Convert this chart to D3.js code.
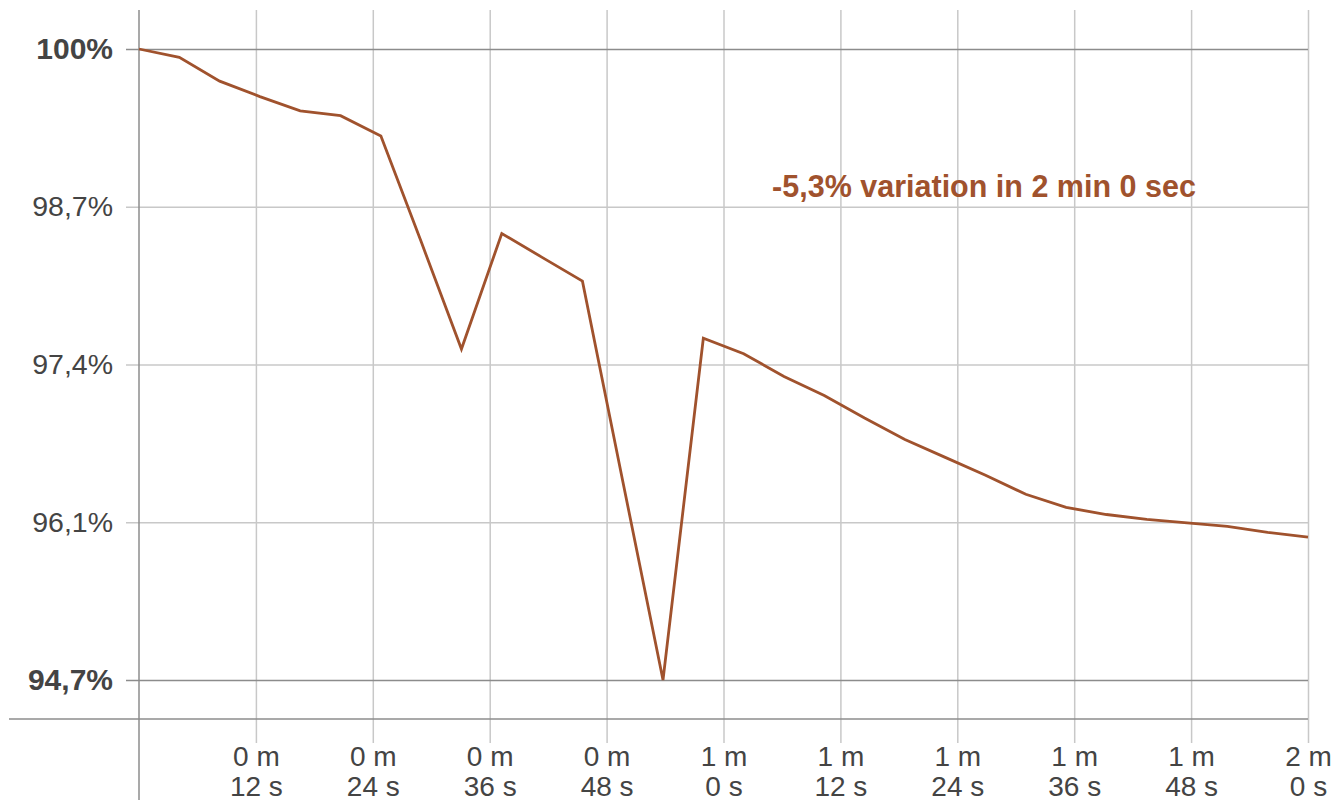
<!DOCTYPE html>
<html>
<head>
<meta charset="utf-8">
<script src="https://cdn.jsdelivr.net/npm/d3@7"></script>
<style>
  body { margin: 0; background: #fff; }
  svg { display: block; font-family: "Liberation Sans", Arial, sans-serif; }
</style>
</head>
<body>
<script>
// elapsed time of each sample, in seconds
const timeSec = [0, 4.14, 8.28, 12.41, 16.55, 20.69, 24.83, 28.97, 33.10, 37.24,
    41.38, 45.52, 49.66, 53.79, 57.93, 62.07, 66.21, 70.34, 74.48, 78.62,
    82.76, 86.90, 91.03, 95.17, 99.31, 103.45, 107.59, 111.72, 115.86, 120];
// battery level in percent
const batteryPct = [100, 99.93, 99.73, 99.60, 99.48, 99.44, 99.27, 98.38, 97.48, 98.45,
    98.25, 98.05, 96.37, 94.70, 97.57, 97.44, 97.25, 97.09, 96.90, 96.72,
    96.57, 96.42, 96.26, 96.15, 96.09, 96.05, 96.02, 95.99, 95.94, 95.90];

const xTickSec = [12, 24, 36, 48, 60, 72, 84, 96, 108, 120];
const xTickMin = ["0 m", "0 m", "0 m", "0 m", "1 m", "1 m", "1 m", "1 m", "1 m", "2 m"];
const xTickSecText = ["12 s", "24 s", "36 s", "48 s", "0 s", "12 s", "24 s", "36 s", "48 s", "0 s"];

const yTickVals = [100, 98.675, 97.35, 96.025, 94.7];
const yTickLabels = ["100%", "98,7%", "97,4%", "96,1%", "94,7%"];

const note = "-5,3% variation in 2 min 0 sec";

let main = () => {
    const width = 1344, height = 800;
    const lineColor = "#a0522d";

    const svg = d3.select("body").append("svg")
        .attr("width", width)
        .attr("height", height);

    const x = d3.scaleLinear().domain([0, 120]).range([139, 1308]);
    const y = d3.scaleLinear().domain([94.7, 100]).range([680, 49]);

    // vertical grid + time labels
    const xAxis = svg.append("g")
        .attr("transform", "translate(0,743)")
        .call(d3.axisBottom(x).tickValues(xTickSec).tickSize(-733).tickPadding(0));
    xAxis.select(".domain").remove();
    xAxis.selectAll(".tick line").attr("stroke", "#c8c8c8").attr("stroke-width", 1.5);
    xAxis.selectAll(".tick text").each(function (d, i) {
        const t = d3.select(this).text(null).attr("y", 0).attr("dy", null)
            .attr("fill", "#444").attr("font-size", 28).attr("font-family", "Liberation Sans, Arial, sans-serif");
        t.append("tspan").attr("x", 0).attr("y", 23).text(xTickMin[i]);
        t.append("tspan").attr("x", 0).attr("y", 53).text(xTickSecText[i]);
    });

    // horizontal grid + percent labels
    const yAxis = svg.append("g")
        .attr("transform", "translate(126,0)")
        .call(d3.axisLeft(y).tickValues(yTickVals).tickSize(-1182).tickPadding(13)
            .tickFormat((d, i) => yTickLabels[i]));
    yAxis.select(".domain").remove();
    yAxis.selectAll(".tick line")
        .attr("stroke", (d, i) => (i === 0 || i === yTickVals.length - 1) ? "#8c8c8c" : "#c8c8c8")
        .attr("stroke-width", 1.5);
    yAxis.selectAll(".tick text")
        .attr("fill", "#444")
        .attr("font-family", "Liberation Sans, Arial, sans-serif")
        .attr("font-size", (d, i) => (i === 0 || i === yTickVals.length - 1) ? 30 : 28.5)
        .attr("font-weight", (d, i) => (i === 0 || i === yTickVals.length - 1) ? "bold" : "normal");

    // axis lines
    svg.append("line")
        .attr("x1", x(0)).attr("x2", x(0))
        .attr("y1", 10).attr("y2", height)
        .attr("stroke", "#8c8c8c").attr("stroke-width", 1.5);
    svg.append("line")
        .attr("x1", 9).attr("x2", x(120))
        .attr("y1", 719).attr("y2", 719)
        .attr("stroke", "#8c8c8c").attr("stroke-width", 1.5);

    // battery line
    const line = d3.line()
        .x((d, i) => x(timeSec[i]))
        .y(d => y(d));
    svg.append("path")
        .datum(batteryPct)
        .attr("d", line)
        .attr("fill", "none")
        .attr("stroke", lineColor)
        .attr("stroke-width", 2.8);

    svg.append("text")
        .attr("x", 984).attr("y", 197)
        .attr("text-anchor", "middle")
        .attr("font-size", 30.5)
        .attr("font-weight", "bold")
        .attr("fill", lineColor)
        .text(note);
}

main()
</script>
</body>
</html>
